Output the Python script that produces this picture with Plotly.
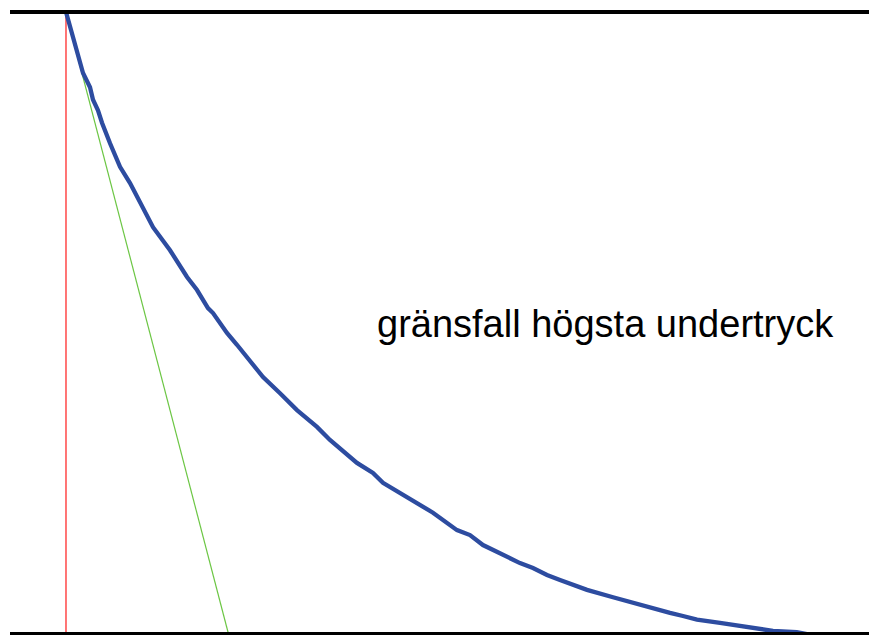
import plotly.graph_objects as go

# time axis (arbitrary units) and normalised pressure
t_curve = [0, 1.23, 2.33, 3.29, 3.70, 4.38, 4.93, 6.03, 7.40, 8.77, 10.14, 11.92, 14.25,
           16.58, 17.95, 19.45, 20.14, 22.05, 23.42, 24.79, 26.99, 29.32, 31.64, 34.38,
           36.16, 39.86, 42.05, 43.42, 48.08, 50.27, 53.56, 55.34, 57.12, 59.86, 62.19,
           63.97, 65.89, 67.67, 69.45, 71.37, 74.93, 77.67, 80.41, 82.74, 84.52, 86.44,
           89.59, 93.29, 96.85, 100.1, 101.5]
p_curve = [1.0, 0.950, 0.902, 0.879, 0.859, 0.842, 0.822, 0.789, 0.751, 0.725, 0.693, 0.654,
           0.617, 0.574, 0.553, 0.524, 0.516, 0.484, 0.465, 0.444, 0.413, 0.387, 0.360,
           0.333, 0.312, 0.275, 0.259, 0.243, 0.211, 0.195, 0.167, 0.159, 0.143, 0.127,
           0.114, 0.106, 0.095, 0.087, 0.080, 0.071, 0.059, 0.050, 0.040, 0.034, 0.029,
           0.023, 0.018, 0.011, 0.005, 0.003, 0.0]

t_tangent = [0, 22.26]
p_tangent = [1.0, 0.0]

t_start = [0, 0]
p_start = [0.0, 1.0]

label = "gränsfall högsta undertryck"

fig = go.Figure()
fig.add_trace(go.Scatter(x=t_start, y=p_start, mode="lines",
                         line=dict(color="#ff6666", width=1.8), hoverinfo="skip"))
fig.add_trace(go.Scatter(x=t_tangent, y=p_tangent, mode="lines",
                         line=dict(color="#6cc644", width=1.2), hoverinfo="skip"))
fig.add_trace(go.Scatter(x=t_curve, y=p_curve, mode="lines",
                         line=dict(color="#2d4ca0", width=4.3), hoverinfo="skip"))

# top and bottom black rules
fig.add_shape(type="line", xref="paper", yref="paper", x0=0, x1=1, y0=1, y1=1,
              line=dict(color="black", width=4))
fig.add_shape(type="line", xref="paper", yref="paper", x0=0, x1=1, y0=0, y1=0,
              line=dict(color="black", width=4))

fig.add_annotation(x=0.693, y=0.498, xref="paper", yref="paper", text=label,
                   showarrow=False, xanchor="center", yanchor="middle",
                   font=dict(family="Liberation Sans, Arial", size=38, color="black"))

fig.update_layout(
    width=869, height=635,
    margin=dict(l=10, r=0, t=12, b=1),
    paper_bgcolor="white", plot_bgcolor="white",
    showlegend=False,
    xaxis=dict(range=[-7.67, 110], visible=False, fixedrange=True),
    yaxis=dict(range=[0, 1], visible=False, fixedrange=True),
)

fig.write_html("out.html", config={"displayModeBar": False},
               post_script="document.body.style.margin='0';document.body.style.overflow='hidden';")
